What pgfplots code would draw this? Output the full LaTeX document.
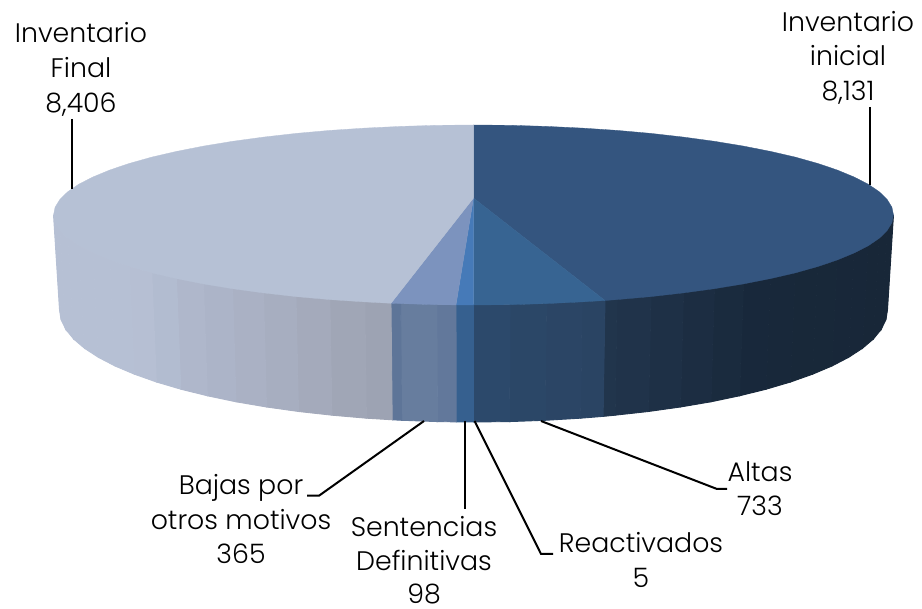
\documentclass[border=0pt]{standalone}
\usepackage{fontspec}
\setmainfont{Poppins}[UprightFont={* Light}]
\usepackage{pgfplots}
\pgfplotsset{compat=1.18}
\definecolor{cFinal}{RGB}{182,193,213}
\definecolor{cBajas}{RGB}{124,147,190}
\definecolor{cSent}{RGB}{70,122,184}
\definecolor{cAltas}{RGB}{55,100,146}
\definecolor{cInic}{RGB}{52,85,127}
\pgfplotsset{colormap={side}{
rgb255(0pt)=(182,192,212);
rgb255(86pt)=(182,192,212);
rgb255(146pt)=(174,182,202);
rgb255(206pt)=(169,176,195);
rgb255(266pt)=(163,169,186);
rgb255(337pt)=(156,162,177);
rgb255(338pt)=(92,115,151);
rgb255(371pt)=(106,127,159);
rgb255(401pt)=(95,117,153);
rgb255(402pt)=(54,96,143);
rgb255(419pt)=(54,96,143);
rgb255(420pt)=(45,74,109);
rgb255(486pt)=(43,70,102);
rgb255(550pt)=(42,67,98);
rgb255(551pt)=(33,53,77);
rgb255(646pt)=(28,45,66);
rgb255(706pt)=(24,40,58);
rgb255(839pt)=(24,39,56)}}
\tikzset{lab/.style={anchor=base,font=\fontsize{26.8}{30}\selectfont,text=black,inner sep=0pt}}
\begin{document}
\begin{tikzpicture}
\begin{axis}[scale only axis,width=922pt,height=609pt,xmin=0,xmax=922,ymin=0,ymax=609,
  y dir=reverse,axis lines=none,clip=false,colormap name=side,point meta min=54,point meta max=893]
\addplot[surf,shader=faceted,faceted color=mapped color,line width=0.9pt,mesh/rows=2,point meta=x] table {
893.5 215.0
891.9 222.8
887.1 230.6
879.2 238.3
868.2 245.8
854.1 253.0
837.2 260.0
817.6 266.6
795.2 272.9
770.5 278.6
743.5 283.9
714.4 288.7
683.5 292.9
651.0 296.6
617.1 299.6
605.0 300.5
582.2 301.9
546.4 303.6
510.1 304.7
473.5 305.0
456.0 304.9
436.9 304.7
400.6 303.6
391.0 303.3
364.8 301.9
329.9 299.6
296.0 296.6
263.5 292.9
232.6 288.7
203.5 283.9
176.5 278.6
151.8 272.9
129.4 266.6
109.8 260.0
92.9 253.0
78.8 245.8
67.8 238.3
59.9 230.6
55.1 222.8
53.5 215.0
887.5 310.0
885.9 319.8
881.2 329.4
873.4 339.0
862.5 348.3
848.7 357.3
832.0 366.0
812.6 374.2
790.6 382.0
766.2 389.2
739.6 395.8
711.0 401.8
680.5 407.0
648.5 411.5
615.1 415.2
603.1 416.4
580.6 418.2
545.4 420.3
509.6 421.6
473.5 422.0
456.2 421.9
437.4 421.6
401.6 420.3
392.2 419.8
366.4 418.2
331.9 415.2
298.5 411.5
266.5 407.0
236.0 401.8
207.4 395.8
180.8 389.2
156.4 382.0
134.4 374.2
115.0 366.0
98.3 357.3
84.5 348.3
73.6 339.0
65.8 329.4
61.1 319.8
59.5 310.0
};
% Inventario inicial
\addplot[fill=cInic,draw=cInic,line width=0.3pt] coordinates {
(473.5,198)(473.5,125)(510.1,125.3)(546.4,126.4)(582.2,128.1)(617.1,130.4)(651,133.4)(683.5,137.1)(714.4,141.3)(743.5,146.1)(770.5,151.4)(795.2,157.1)(817.6,163.4)(837.2,170)(854.1,177)(868.2,184.2)(879.2,191.7)(887.1,199.4)(891.9,207.2)(893.5,215)(891.9,222.8)(887.1,230.6)(879.2,238.3)(868.2,245.8)(854.1,253)(837.2,260)(817.6,266.6)(795.2,272.9)(770.5,278.6)(743.5,283.9)(714.4,288.7)(683.5,292.9)(651,296.6)(617.1,299.6)(605,300.5)(473.5,198)};
% Altas
\addplot[fill=cAltas,draw=cAltas,line width=0.3pt] coordinates {
(473.5,198)(605,300.5)(582.2,301.9)(546.4,303.6)(510.1,304.7)(473.5,305)(473.5,198)};
% Sentencias
\addplot[fill=cSent,draw=cSent,line width=0.3pt] coordinates {
(473.5,198)(473.5,305)(456,304.9)(473.5,198)};
% Bajas
\addplot[fill=cBajas,draw=cBajas,line width=0.3pt] coordinates {
(473.5,198)(456,304.9)(436.9,304.7)(400.6,303.6)(391,303.3)(473.5,198)};
% Inventario final
\addplot[fill=cFinal,draw=cFinal,line width=0.3pt] coordinates {
(473.5,198)(391,303.3)(364.8,301.9)(329.9,299.6)(296,296.6)(263.5,292.9)(232.6,288.7)(203.5,283.9)(176.5,278.6)(151.8,272.9)(129.4,266.6)(109.8,260)(92.9,253)(78.8,245.8)(67.8,238.3)(59.9,230.6)(55.1,222.8)(53.5,215)(55.1,207.2)(59.9,199.4)(67.8,191.7)(78.8,184.2)(92.9,177)(109.8,170)(129.4,163.4)(151.8,157.1)(176.5,151.4)(203.5,146.1)(232.6,141.3)(263.5,137.1)(296,133.4)(329.9,130.4)(364.8,128.1)(400.6,126.4)(436.9,125.3)(473.5,125)(473.5,198)};
% leader lines
\addplot[black,line width=2pt] coordinates {(72,119)(72,189)};
\addplot[black,line width=2pt] coordinates {(870,107)(870,185)};
\addplot[black,line width=2pt] coordinates {(424,421)(319,495.7)(307,495.7)};
\addplot[black,line width=2pt] coordinates {(465,421)(465,509)};
\addplot[black,line width=2pt] coordinates {(474.6,421)(541,554)(553,554)};
\addplot[black,line width=2pt] coordinates {(541,421)(717,489)(727,489)};
\path (axis cs:0,0) rectangle (axis cs:922,609);
\node[lab] at (axis cs:81,43) {Inventario};
\node[lab] at (axis cs:81,78) {Final};
\node[lab] at (axis cs:81,113) {8,406};
\node[lab] at (axis cs:848,32) {Inventario};
\node[lab] at (axis cs:848,66) {inicial};
\node[lab] at (axis cs:848,101) {8,131};
\node[lab] at (axis cs:241,495) {Bajas por};
\node[lab] at (axis cs:241,530) {otros motivos};
\node[lab] at (axis cs:241,564) {365};
\node[lab] at (axis cs:424,537) {Sentencias};
\node[lab] at (axis cs:424,571) {Definitivas};
\node[lab] at (axis cs:424,604) {98};
\node[lab] at (axis cs:641,553) {Reactivados};
\node[lab] at (axis cs:641,588) {5};
\node[lab] at (axis cs:760,482) {Altas};
\node[lab] at (axis cs:760,516) {733};
\end{axis}
\end{tikzpicture}
\end{document}
